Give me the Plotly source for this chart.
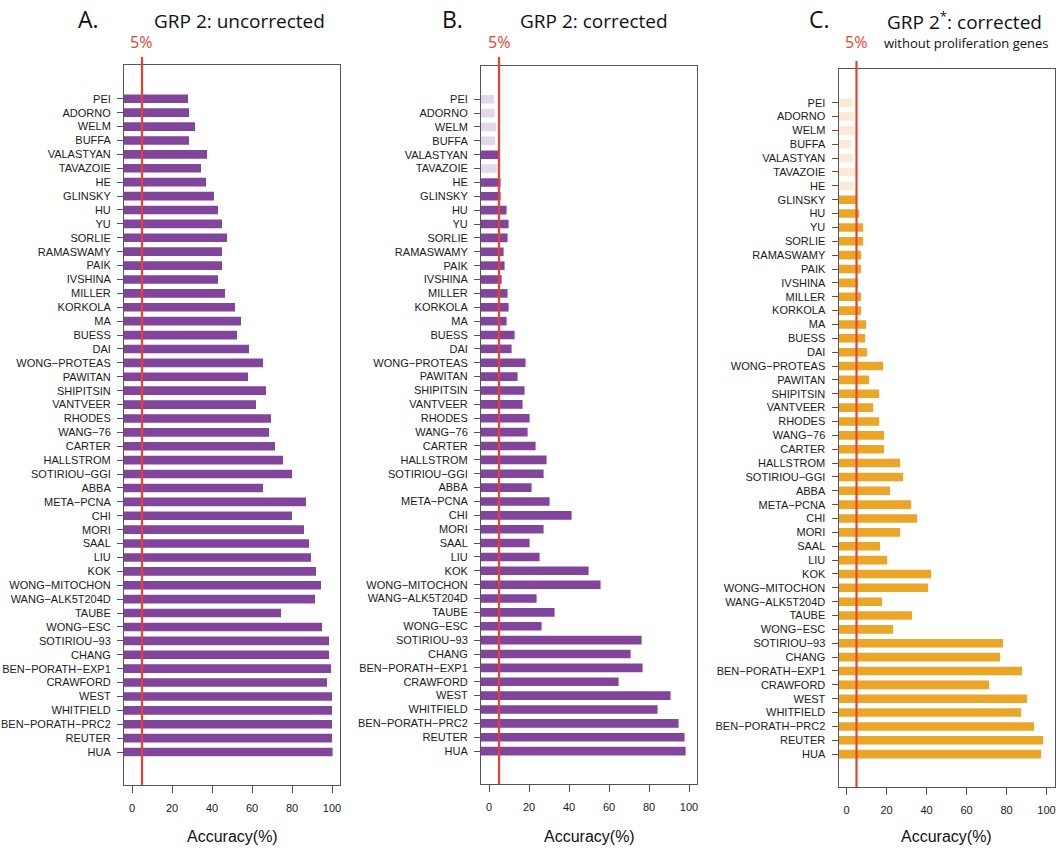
import plotly.graph_objects as go

# Gene-signature studies, top to bottom
studies = [
    "PEI", "ADORNO", "WELM", "BUFFA", "VALASTYAN", "TAVAZOIE", "HE", "GLINSKY",
    "HU", "YU", "SORLIE", "RAMASWAMY", "PAIK", "IVSHINA", "MILLER", "KORKOLA",
    "MA", "BUESS", "DAI", "WONG−PROTEAS", "PAWITAN", "SHIPITSIN", "VANTVEER",
    "RHODES", "WANG−76", "CARTER", "HALLSTROM", "SOTIRIOU−GGI", "ABBA",
    "META−PCNA", "CHI", "MORI", "SAAL", "LIU", "KOK", "WONG−MITOCHON",
    "WANG−ALK5T204D", "TAUBE", "WONG−ESC", "SOTIRIOU−93", "CHANG",
    "BEN−PORATH−EXP1", "CRAWFORD", "WEST", "WHITFIELD", "BEN−PORATH−PRC2",
    "REUTER", "HUA",
]

# Accuracy (%) per study
acc_uncorrected = [
    28, 28.5, 31.5, 28.5, 37.5, 34.5, 37, 41,
    43, 45, 47.5, 45, 45, 43, 46.5, 51.5,
    54.5, 52.5, 58.5, 65.5, 58, 67, 62,
    69.5, 68.5, 71.5, 75.5, 80, 65.5,
    87, 80, 86, 88.5, 89.5, 92, 94.5,
    91.5, 74.5, 95, 98.5, 98.5,
    99.5, 97.5, 100, 100, 100,
    100, 100.3,
]
acc_corrected = [
    2.5, 2.8, 3.7, 3, 4.6, 4.3, 5.8, 5.8,
    8.8, 9.8, 9.3, 7.3, 7.8, 6.3, 9.3, 9.8,
    8.8, 12.8, 11.3, 18.3, 14.3, 17.8, 16.8,
    20.3, 19.3, 23.3, 28.8, 27.3, 21.3,
    30.3, 41.3, 27.3, 20.3, 25.3, 49.8, 55.8,
    23.8, 32.8, 26.3, 76.3, 70.8,
    76.8, 64.8, 90.8, 84.3, 94.8,
    97.8, 98.3,
]
acc_no_prolif = [
    3, 3.8, 4, 2.5, 3.3, 4.3, 3.8, 4.9,
    6.2, 8.3, 8.3, 7.3, 7.3, 5.7, 7.3, 7.3,
    9.8, 9.3, 10.3, 18.3, 11.3, 16.3, 13.3,
    16.3, 18.8, 18.8, 26.8, 28.3, 21.8,
    32.3, 35.3, 26.8, 16.8, 20.3, 42.3, 40.8,
    17.8, 32.8, 23.3, 78.3, 76.8,
    87.8, 71.3, 90.3, 87.3, 93.8,
    98.3, 97.3,
]

# Studies drawn faded (not significant) in the corrected panels
faded_corrected = ["PEI", "ADORNO", "WELM", "BUFFA", "TAVAZOIE"]
faded_no_prolif = ["PEI", "ADORNO", "WELM", "BUFFA", "VALASTYAN", "TAVAZOIE", "HE"]

threshold = 5
x_ticks = [0, 20, 40, 60, 80, 100]

PURPLE, PURPLE_LIGHT = "#81469b", "#e3d7eb"
ORANGE, ORANGE_LIGHT = "#eba628", "#fce9d6"
RED = "#e9412f"
X_MIN, X_MAX = -4, 104

TICK_FONT = dict(family="Liberation Sans, Arial", size=11, color="#1a1a1a")
TITLE_FONT = "Open Sans, Lato, sans-serif"

W, H = 1056, 848
panels = [
    dict(x=(124, 340), y=(65, 785), vals=acc_uncorrected, faded=[], col=PURPLE, light=PURPLE_LIGHT,
         letter="A.", letter_x=88, title="GRP 2: uncorrected", title_x=239, line_top=57, pct_x=141),
    dict(x=(481, 697), y=(65.5, 784), vals=acc_corrected, faded=faded_corrected, col=PURPLE, light=PURPLE_LIGHT,
         letter="B.", letter_x=452, title="GRP 2: corrected", title_x=594, line_top=57, pct_x=499),
    dict(x=(838.5, 1054.5), y=(69, 787), vals=acc_no_prolif, faded=faded_no_prolif, col=ORANGE, light=ORANGE_LIGHT,
         letter="C.", letter_x=819, title="GRP 2<sup>*</sup>: corrected", title_x=964, line_top=61, pct_x=856),
]

fig = go.Figure()
annotations = []
shapes = []

for i, p in enumerate(panels):
    n = "" if i == 0 else str(i + 1)
    xa, ya = "x" + n, "y" + n
    colors = [p["light"] if s in p["faded"] else p["col"] for s in studies]
    fig.add_trace(go.Bar(
        y=studies, x=[v - X_MIN for v in p["vals"]], base=X_MIN,
        orientation="h", width=0.62, marker=dict(color=colors, line=dict(width=0)),
        xaxis=xa, yaxis=ya, showlegend=False, hoverinfo="y+text",
        hovertext=[f"{v}%" for v in p["vals"]],
    ))
    dom_x = [p["x"][0] / W, p["x"][1] / W]
    dom_y = [1 - p["y"][1] / H, 1 - p["y"][0] / H]
    fig.layout["xaxis" + n] = dict(
        domain=dom_x, anchor=ya, range=[X_MIN, X_MAX], tickmode="array", tickvals=x_ticks,
        ticks="outside", ticklen=7, tickcolor="#555", tickwidth=1,
        showline=True, mirror=True, linecolor="#555", linewidth=1, automargin=False,
        showgrid=False, zeroline=False, tickfont=TICK_FONT, ticklabelstandoff=6,
    )
    fig.layout["yaxis" + n] = dict(
        domain=dom_y, anchor=xa, type="category", categoryorder="array", categoryarray=studies,
        tickmode="array", tickvals=studies, ticktext=studies,
        range=[49.37, -2.43], ticks="outside", ticklen=6, tickcolor="#555",
        showline=True, mirror=True, linecolor="#555", linewidth=1, automargin=False,
        showgrid=False, zeroline=False, tickfont=TICK_FONT, ticklabelstandoff=4,
    )
    # 5% reference line
    shapes.append(dict(
        type="line", xref=xa, yref="paper", x0=threshold, x1=threshold,
        y0=1 - p["y"][1] / H, y1=1 - p["line_top"] / H,
        line=dict(color=RED, width=2.2), layer="above",
    ))
    annotations += [
        dict(text="5%", x=p["pct_x"] / W, y=1 - 42 / H, xref="paper", yref="paper",
             showarrow=False, xanchor="center", yanchor="middle",
             font=dict(family=TITLE_FONT, size=16, color=RED)),
        dict(text=p["letter"], x=p["letter_x"] / W, y=1 - 19 / H, xref="paper", yref="paper",
             showarrow=False, xanchor="center", yanchor="middle",
             font=dict(family=TITLE_FONT, size=23, color="#111")),
        dict(text=p["title"], x=p["title_x"] / W, y=1 - 21 / H, xref="paper", yref="paper",
             showarrow=False, xanchor="center", yanchor="middle",
             font=dict(family=TITLE_FONT, size=19, color="#111")),
        dict(text="Accuracy(%)", x=(p["x"][0] + p["x"][1]) / 2 / W, y=1 - 836 / H,
             xref="paper", yref="paper", showarrow=False, xanchor="center", yanchor="middle",
             font=dict(family="Liberation Sans, Arial", size=16, color="#111")),
    ]

annotations.append(dict(
    text="without proliferation genes", x=966 / W, y=1 - 43 / H, xref="paper", yref="paper",
    showarrow=False, xanchor="center", yanchor="middle",
    font=dict(family=TITLE_FONT, size=13, color="#111"),
))

fig.update_layout(
    width=W, height=H, margin=dict(l=0, r=0, t=0, b=0, autoexpand=False),
    paper_bgcolor="white", plot_bgcolor="white",
    annotations=annotations, shapes=shapes,
)

fig.write_html("out.html")
